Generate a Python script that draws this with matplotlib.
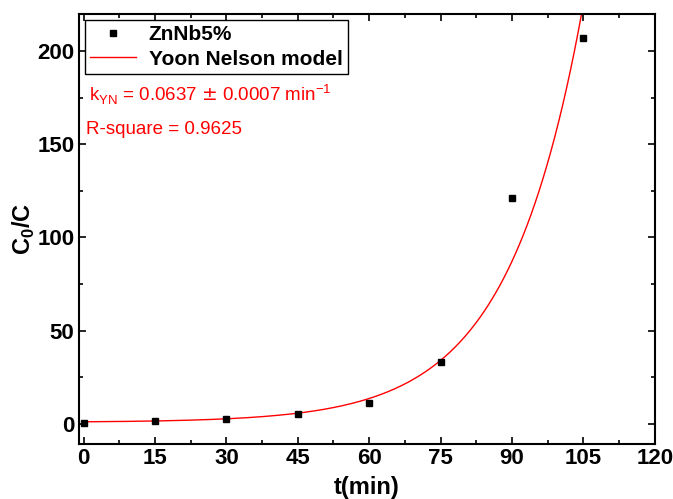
import numpy as np
import matplotlib
matplotlib.use("Agg")
import matplotlib.pyplot as plt
from matplotlib.ticker import MultipleLocator
from matplotlib import font_manager

# measured points
t = [0, 15, 30, 45, 60, 75, 90, 105]
c0_c = [0.5, 1.2, 2.5, 5.0, 11.0, 33.0, 121.0, 207.0]

# Yoon Nelson fit (k from the chart, amplitude)
k_yn = 0.0637
amp = 0.28
offset = 0.7

names = {f.name for f in font_manager.fontManager.ttflist}
narrow = 'Liberation Sans Narrow' if 'Liberation Sans Narrow' in names else 'Liberation Sans'

plt.rcParams['font.family'] = ['Liberation Sans', 'DejaVu Sans']

fig = plt.figure(figsize=(6.73, 4.99), dpi=100)
ax = fig.add_axes([0.117, 0.110, 0.856, 0.862])

t_fit = np.linspace(0, 110, 400)
ax.plot(t_fit, offset + amp * np.exp(k_yn * t_fit), color='red', lw=1.0,
        label='Yoon Nelson model', zorder=2)
ax.plot(t, c0_c, 's', color='black', ms=5, label='ZnNb5%', zorder=3)

ax.set_xlim(-1, 120)
ax.set_ylim(-11, 220)
ax.xaxis.set_major_locator(MultipleLocator(15))
ax.xaxis.set_minor_locator(MultipleLocator(7.5))
ax.yaxis.set_major_locator(MultipleLocator(50))
ax.yaxis.set_minor_locator(MultipleLocator(25))
ax.tick_params(which='both', direction='in', top=True, right=True, width=1.2)
ax.tick_params(which='major', length=5, pad=3)
ax.tick_params(which='minor', length=3)
for lab in ax.get_xticklabels() + ax.get_yticklabels():
    lab.set_fontweight('bold')
    lab.set_family(narrow)
    lab.set_fontsize(16)
for s in ax.spines.values():
    s.set_linewidth(1.5)

ax.set_xlabel('t(min)', fontsize=17, fontweight='bold', family=narrow, labelpad=5)
ax.set_ylabel('C$_\\mathregular{0}$/C', fontsize=17, fontweight='bold',
              family=narrow, labelpad=0)

h, l = ax.get_legend_handles_labels()
leg = ax.legend(h[::-1], l[::-1], loc='upper left',
                prop={'weight': 'bold', 'size': 15}, fancybox=False,
                edgecolor='black', framealpha=1, handlelength=2.2,
                borderaxespad=0.3, borderpad=0.25, labelspacing=0.25,
                handletextpad=0.6)
leg.get_frame().set_linewidth(1.0)

ax.text(0.018, 0.795, 'k$_\\mathregular{YN}$ = 0.0637 $\\pm$ 0.0007 min$^\\mathregular{-1}$',
        transform=ax.transAxes, color='red', fontsize=13.5)
ax.text(0.012, 0.722, 'R-square = 0.9625', transform=ax.transAxes,
        color='red', fontsize=13.5)

fig.savefig('out.png', dpi=100)
